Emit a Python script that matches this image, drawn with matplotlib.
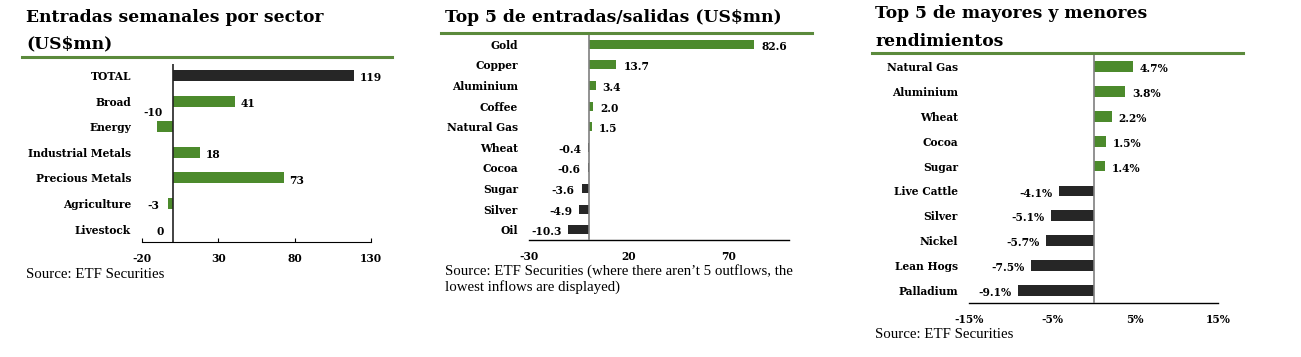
import matplotlib.pyplot as plt
from matplotlib.lines import Line2D

# data
sec_names = ['TOTAL', 'Broad', 'Energy', 'Industrial Metals', 'Precious Metals', 'Agriculture', 'Livestock']
sec_vals = [119, 41, -10, 18, 73, -3, 0]

flow_names = ['Gold', 'Copper', 'Aluminium', 'Coffee', 'Natural Gas', 'Wheat', 'Cocoa', 'Sugar', 'Silver', 'Oil']
flow_vals = [82.6, 13.7, 3.4, 2.0, 1.5, -0.4, -0.6, -3.6, -4.9, -10.3]

perf_names = ['Natural Gas', 'Aluminium', 'Wheat', 'Cocoa', 'Sugar', 'Live Cattle', 'Silver', 'Nickel', 'Lean Hogs', 'Palladium']
perf_vals = [4.7, 3.8, 2.2, 1.5, 1.4, -4.1, -5.1, -5.7, -7.5, -9.1]

GREEN = '#4c8a2c'
DARK = '#262626'
RULE = '#5b8a3c'
BOLD = ['DejaVu Serif']
SRC = ['Liberation Serif', 'DejaVu Serif']
LBL = 7.7

W, H = 1301, 357
fig = plt.figure(figsize=(W / 100, H / 100), dpi=100)


def px_axes(l, t, r, b):
    return fig.add_axes([l / W, 1 - b / H, (r - l) / W, (b - t) / H])


def rule(x0, x1, y):
    fig.add_artist(Line2D([x0 / W, x1 / W], [1 - y / H, 1 - y / H], color=RULE, lw=2.2))


def title(x, y, s):
    fig.text(x / W, 1 - y / H, s, family=BOLD, fontweight='bold', fontsize=12.3, va='center')


def source(x, y, s):
    fig.text(x / W, 1 - y / H, s, family=SRC, fontsize=10.7, va='center')


def bar_panel(ax, names, vals, colors, xlim, ticks, ticklabels, fmt, zero_color):
    y = range(len(names))
    ax.barh(y, vals, height=0.43, color=colors)
    ax.set_xlim(*xlim)
    ax.set_ylim(len(names) - 0.5, -0.5)
    ax.set_yticks(list(y))
    ax.set_yticklabels(names, family=BOLD, fontweight='bold', fontsize=LBL)
    ax.tick_params(axis='y', length=0, pad=8)
    ax.set_xticks(ticks)
    ax.set_xticklabels(ticklabels, family=BOLD, fontweight='bold', fontsize=LBL)
    ax.tick_params(axis='x', length=0, pad=8)
    for s in ['top', 'right', 'left']:
        ax.spines[s].set_visible(False)
    ax.spines['bottom'].set_linewidth(1.0)
    ax.axvline(0, color=zero_color, lw=1.2, zorder=3)
    for i, v in enumerate(vals):
        if v > 0:
            ax.annotate(fmt.format(v), (v, i), xytext=(5, -1.5), textcoords='offset points',
                        ha='left', va='center', family=BOLD, fontweight='bold', fontsize=LBL)
        else:
            ax.annotate(fmt.format(v), (min(v, 0), i), xytext=(-5, -1.5), textcoords='offset points',
                        ha='right', va='center', family=BOLD, fontweight='bold', fontsize=LBL)


# panel 1
title(26, 18, 'Entradas semanales por sector')
title(26, 44, '(US$mn)')
rule(22, 392, 57)
ax1 = px_axes(142, 64, 371, 242)
c1 = [DARK] + [GREEN] * (len(sec_vals) - 1)
y1 = range(len(sec_names))
ax1.barh(y1, sec_vals, height=0.43, color=c1)
ax1.set_xlim(-20, 130)
ax1.set_ylim(len(sec_names) - 0.5, -0.45)
ax1.set_yticks(list(y1))
ax1.set_yticklabels(sec_names, family=BOLD, fontweight='bold', fontsize=LBL)
ax1.tick_params(axis='y', length=0, pad=8)
ax1.set_xticks([-20, 30, 80, 130])
ax1.set_xticklabels(['-20', '30', '80', '130'], family=BOLD, fontweight='bold', fontsize=LBL)
ax1.tick_params(axis='x', direction='in', length=3, pad=8)
for s in ['top', 'right', 'left']:
    ax1.spines[s].set_visible(False)
ax1.axvline(0, color='#222222', lw=1.2, zorder=3)
for i, v in enumerate(sec_vals):
    if v > 0:
        ax1.annotate(str(v), (v, i), xytext=(4, -1.5), textcoords='offset points',
                     ha='left', va='center', family=BOLD, fontweight='bold', fontsize=LBL)
    elif v < -5:
        ax1.annotate(str(v), (v, i), xytext=(4, 10), textcoords='offset points',
                     ha='right', va='center', family=BOLD, fontweight='bold', fontsize=LBL)
    else:
        ax1.annotate(str(v), (min(v, 0), i), xytext=(-6, -1.5), textcoords='offset points',
                     ha='right', va='center', family=BOLD, fontweight='bold', fontsize=LBL)
source(26, 275, 'Source: ETF Securities')

# panel 2
title(445, 18, 'Top 5 de entradas/salidas (US$mn)')
rule(441, 812, 33)
ax2 = px_axes(529, 34, 789, 240)
c2 = [GREEN if v > 0 else DARK for v in flow_vals]
bar_panel(ax2, flow_names, flow_vals, c2, (-30, 100), [-30, 20, 70], ['-30', '20', '70'],
          '{:.1f}', '#7f7f7f')
source(445, 271, 'Source: ETF Securities (where there aren\u2019t 5 outflows, the')
source(445, 287, 'lowest inflows are displayed)')

# panel 3
title(875, 13, 'Top 5 de mayores y menores')
title(875, 41, 'rendimientos')
rule(872, 1243, 53)
ax3 = px_axes(969, 54, 1218, 303)
c3 = [GREEN if v > 0 else DARK for v in perf_vals]
bar_panel(ax3, perf_names, perf_vals, c3, (-15, 15), [-15, -5, 5, 15], ['-15%', '-5%', '5%', '15%'],
          '{:.1f}%', '#7f7f7f')
source(875, 335, 'Source: ETF Securities')

fig.savefig('out.png', dpi=100)
